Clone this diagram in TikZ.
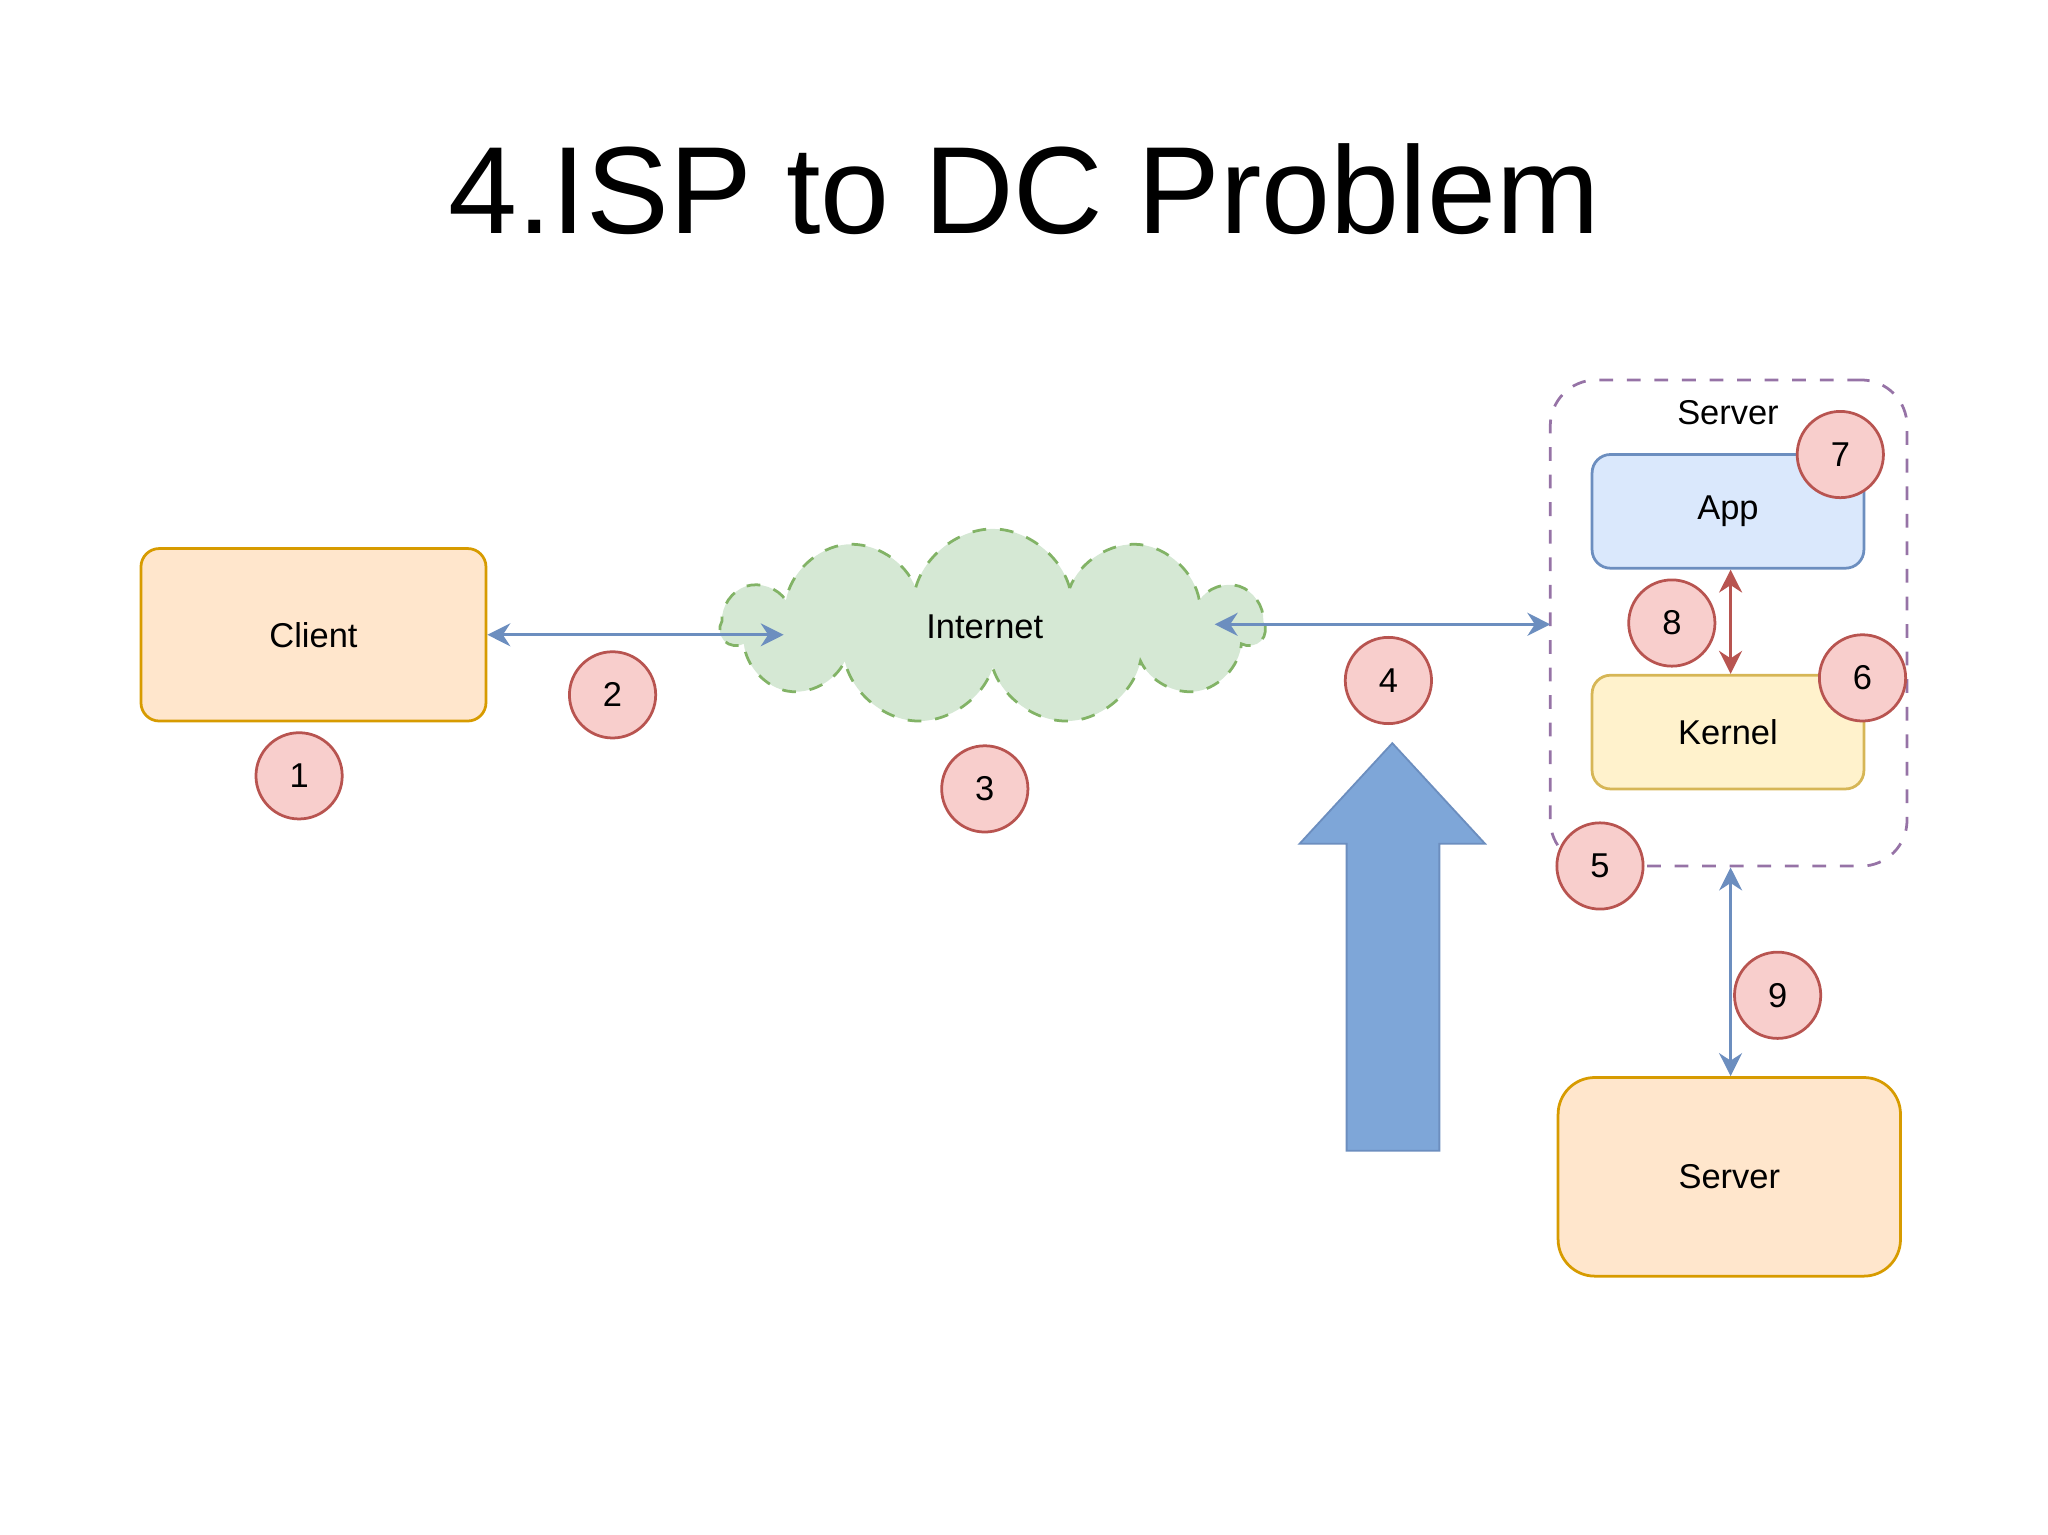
\documentclass[tikz,border=0pt]{standalone}
\usepackage{fontspec}
\setmainfont{Liberation Sans}
\usetikzlibrary{shapes.symbols,arrows.meta}
\definecolor{orf}{HTML}{FFE6CC}\definecolor{ord}{HTML}{D79B00}
\definecolor{grf}{HTML}{D5E8D4}\definecolor{grd}{HTML}{82B366}
\definecolor{blf}{HTML}{DAE8FC}\definecolor{bld}{HTML}{6C8EBF}
\definecolor{yef}{HTML}{FFF2CC}\definecolor{yed}{HTML}{D6B656}
\definecolor{ref}{HTML}{F8CECC}\definecolor{red}{HTML}{B85450}
\definecolor{pud}{HTML}{9673A6}\definecolor{big}{HTML}{7EA6D8}
\begin{document}
\begin{tikzpicture}[x=0.01cm,y=-0.01cm,
 box/.style={rounded corners=4pt,line width=0.6pt,inner sep=0,font=\fontsize{7.5}{9}\selectfont},
 num/.style={circle,fill=ref,draw=red,line width=0.6pt,minimum size=0.66cm,inner sep=0,font=\fontsize{7.5}{9}\selectfont},
 conn/.style={line width=0.6pt,{Stealth[length=5pt,width=5pt]}-{Stealth[length=5pt,width=5pt]}}]
\useasboundingbox (0,0) rectangle (1568,1175);
\node[font=\fontsize{27}{32}\selectfont] (title) at (784,145) {4.ISP to DC Problem};
\node[box,fill=orf,draw=ord,minimum width=2.64cm,minimum height=1.32cm] (client) at (240,486) {Client};
\node[cloud,cloud puffs=11,aspect=2.8,fill=grf,draw=grd,dashed,line width=0.6pt,minimum width=4.15cm,minimum height=1.5cm,inner sep=0,font=\fontsize{7.5}{9}\selectfont] (inet) at (760,480) {};
\node[font=\fontsize{7.5}{9}\selectfont] (inetl) at (754,480) {Internet};
\node[box,draw=pud,dashed,rounded corners=10pt,minimum width=2.73cm,minimum height=3.72cm] (cont) at (1323.5,477) {};
\node[font=\fontsize{7.5}{9}\selectfont] (srvl) at (1323,316) {Server};
\node[box,fill=blf,draw=bld,minimum width=2.08cm,minimum height=0.87cm] (app) at (1323,391.5) {App};
\node[box,fill=yef,draw=yed,minimum width=2.08cm,minimum height=0.87cm] (kernel) at (1323,560.5) {Kernel};
\node[box,fill=orf,draw=ord,rounded corners=8pt,minimum width=2.62cm,minimum height=1.52cm] (server) at (1324,901) {Server};
\coordinate (c2) at (600,486);
\coordinate (c4a) at (930,478);
\coordinate (c4b) at (1187,478);
\draw[conn,draw=bld] (client.east |- c2) -- (c2);
\draw[conn,draw=bld] (c4a) -- (c4b);
\draw[conn,draw=red] (app.south -| 1325,0) -- (kernel.north -| 1325,0);
\draw[conn,draw=bld] (cont.south -| 1325,0) -- (server.north -| 1325,0);
\draw[fill=big,draw=bld,line width=0.4pt] (1031,881) -- (1031,646) -- (995,646) -- (1066,569) -- (1137,646) -- (1102,646) -- (1102,881) -- cycle;
\node[num] (n1) at (229,594) {1};
\node[num] (n2) at (469,532) {2};
\node[num] (n3) at (754,604) {3};
\node[num] (n4) at (1063,521) {4};
\node[num] (n5) at (1225,663) {5};
\node[num] (n6) at (1426,519) {6};
\node[num] (n7) at (1409,348) {7};
\node[num] (n8) at (1280,477) {8};
\node[num] (n9) at (1361,762) {9};
\end{tikzpicture}
\end{document}
